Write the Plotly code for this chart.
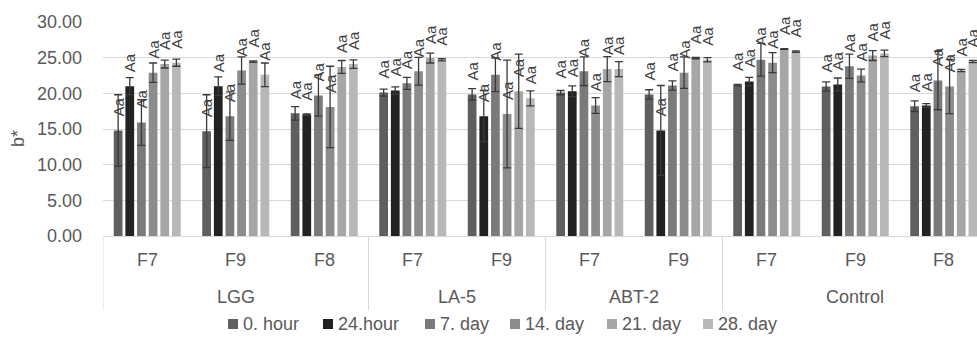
import plotly.graph_objects as go

# ---------------- data ----------------
groups = ["LGG", "LA-5", "ABT-2", "Control"]
group_sizes = [3, 2, 2, 3]
subcats = ["F7", "F9", "F8", "F7", "F9", "F7", "F9", "F7", "F9", "F8"]
series = ["0. hour", "24.hour", "7. day", "14. day", "21. day", "28. day"]
colors = ["#5f5f5f", "#222222", "#7a7a7a", "#8c8c8c", "#a6a6a6", "#b8b8b8"]

v_0h = [14.8, 14.7, 17.2, 20.1, 19.85, 20.1, 19.85, 21.15, 20.95, 18.2]
v_24h = [21.0, 21.0, 17.0, 20.4, 16.8, 20.3, 14.8, 21.65, 21.25, 18.3]
v_7d = [15.9, 16.8, 19.7, 21.4, 22.6, 23.1, 21.1, 24.7, 23.8, 21.8]
v_14d = [22.9, 23.2, 18.1, 23.1, 17.1, 18.3, 22.9, 24.3, 22.5, 20.95]
v_21d = [24.1, 24.45, 23.7, 24.95, 20.3, 23.4, 24.95, 26.2, 25.3, 23.2]
v_28d = [24.3, 22.6, 24.1, 24.7, 19.3, 23.4, 24.7, 25.85, 25.6, 24.45]

e_0h = [5.0, 5.1, 0.95, 0.5, 0.8, 0.3, 0.65, 0.1, 0.65, 0.75]
e_24h = [1.2, 1.3, 0.1, 0.5, 3.6, 0.75, 6.3, 0.6, 0.9, 0.25]
e_7d = [3.2, 3.4, 2.9, 0.85, 2.35, 2.0, 0.65, 2.3, 1.7, 4.1]
e_14d = [1.35, 1.9, 5.7, 1.95, 7.55, 1.1, 2.2, 1.4, 0.9, 3.8]
e_21d = [0.55, 0.1, 0.9, 0.7, 5.2, 1.75, 0.1, 0.05, 0.7, 0.15]
e_28d = [0.5, 1.65, 0.6, 0.15, 1.05, 1.05, 0.3, 0.1, 0.45, 0.15]

labels = ["Aa"] * len(subcats)
y_ticks = [0, 5, 10, 15, 20, 25, 30]
y_title = "b*"

values = [v_0h, v_24h, v_7d, v_14d, v_21d, v_28d]
errors = [e_0h, e_24h, e_7d, e_14d, e_21d, e_28d]

# ---------------- layout constants ----------------
FONT = "Liberation Sans, Arial, sans-serif"
TXT = "#595959"
W, H = 977, 345
ML, MR, MT, MB = 103, 0, 22, 109
cat_px = 88.5
x_lo = -0.5
x_hi = x_lo + (W - ML - MR) / cat_px
px_per_unit = (H - MT - MB) / 30.0
label_lift = 11 / px_per_unit  # gap between bar top and its label

bargap = 0.21
slot = (1 - bargap) / len(series)
bar_w = slot * 0.75

fig = go.Figure()
n = len(subcats)
for j, (name, vals, errs, col) in enumerate(zip(series, values, errors, colors)):
    xs = [i + (j - (len(series) - 1) / 2) * slot for i in range(n)]
    fig.add_trace(go.Bar(
        x=xs, y=vals, width=bar_w, name=name,
        marker=dict(color=col, line=dict(width=0)),
        error_y=dict(type="data", array=errs, visible=True,
                     color="#3a3a3a", thickness=1.3, width=4),
        showlegend=False, hoverinfo="x+y",
    ))
for j, vals in enumerate(values):
    xs = [i + (j - (len(series) - 1) / 2) * slot for i in range(n)]
    fig.add_trace(go.Bar(
        x=xs, y=[v + label_lift for v in vals], width=bar_w,
        marker=dict(color="rgba(0,0,0,0)", line=dict(width=0)),
        text=labels, textposition="outside", textangle=-90,
        constraintext="none", cliponaxis=False,
        textfont=dict(family=FONT, size=15, color="#3f3f3f"),
        showlegend=False, hoverinfo="skip",
    ))

annotations = []
shapes = []

def yp(px):
    return (H - MB - px) / (H - MB - MT)

def xp(px):
    return (px - ML) / (W - ML - MR)

for i, s in enumerate(subcats):
    annotations.append(dict(
        x=i, y=yp(260), xref="x", yref="paper", text=s, showarrow=False,
        xanchor="center", yanchor="middle",
        font=dict(family=FONT, size=18, color=TXT),
    ))

start = 0
bounds = [x_lo]
for g, size in zip(groups, group_sizes):
    end = start + size
    center = (start - 0.5 + end - 0.5) / 2
    annotations.append(dict(
        x=center, y=yp(297), xref="x", yref="paper", text=g, showarrow=False,
        xanchor="center", yanchor="middle",
        font=dict(family=FONT, size=18, color=TXT),
    ))
    bounds.append(end - 0.5)
    start = end

for b in bounds[:-1]:
    shapes.append(dict(type="line", xref="x", yref="paper", x0=b, x1=b,
                       y0=0, y1=yp(310), line=dict(color="#d9d9d9", width=1)))

# y axis title
annotations.append(dict(
    x=xp(18), y=yp(139), xref="paper", yref="paper", text=y_title,
    showarrow=False, textangle=-90, xanchor="center", yanchor="middle",
    font=dict(family=FONT, size=18, color=TXT),
))

# custom legend
leg_sq = [228, 323, 425, 510, 607, 703]
for name, col, sx in zip(series, colors, leg_sq):
    shapes.append(dict(type="rect", xref="paper", yref="paper",
                       x0=xp(sx), x1=xp(sx + 10), y0=yp(329), y1=yp(319),
                       fillcolor=col, line=dict(width=0)))
    annotations.append(dict(
        x=xp(sx + 13), y=yp(324), xref="paper", yref="paper", text=name,
        showarrow=False, xanchor="left", yanchor="middle",
        font=dict(family=FONT, size=18, color=TXT),
    ))

fig.update_layout(
    width=W, height=H,
    margin=dict(l=ML, r=MR, t=MT, b=MB, pad=0, autoexpand=False),
    paper_bgcolor="white", plot_bgcolor="white",
    barmode="overlay",
    annotations=annotations, shapes=shapes,
    xaxis=dict(range=[x_lo, x_hi], showticklabels=False, showgrid=False,
               zeroline=False, showline=True, linecolor="#d9d9d9", linewidth=1,
               ticks="", automargin=False),
    yaxis=dict(range=[0, 30], tickvals=y_ticks,
               ticktext=[f"{t:.2f}" for t in y_ticks],
               showgrid=True, gridcolor="#d9d9d9", gridwidth=1,
               zeroline=False, showline=False, ticks="",
               ticklabelstandoff=20, automargin=False,
               tickfont=dict(family=FONT, size=18, color=TXT)),
    font=dict(family=FONT, color=TXT),
)

post = "document.body.style.margin='0';document.body.style.overflow='hidden';"
fig.write_html("out.html", config={"displayModeBar": False}, post_script=post)
